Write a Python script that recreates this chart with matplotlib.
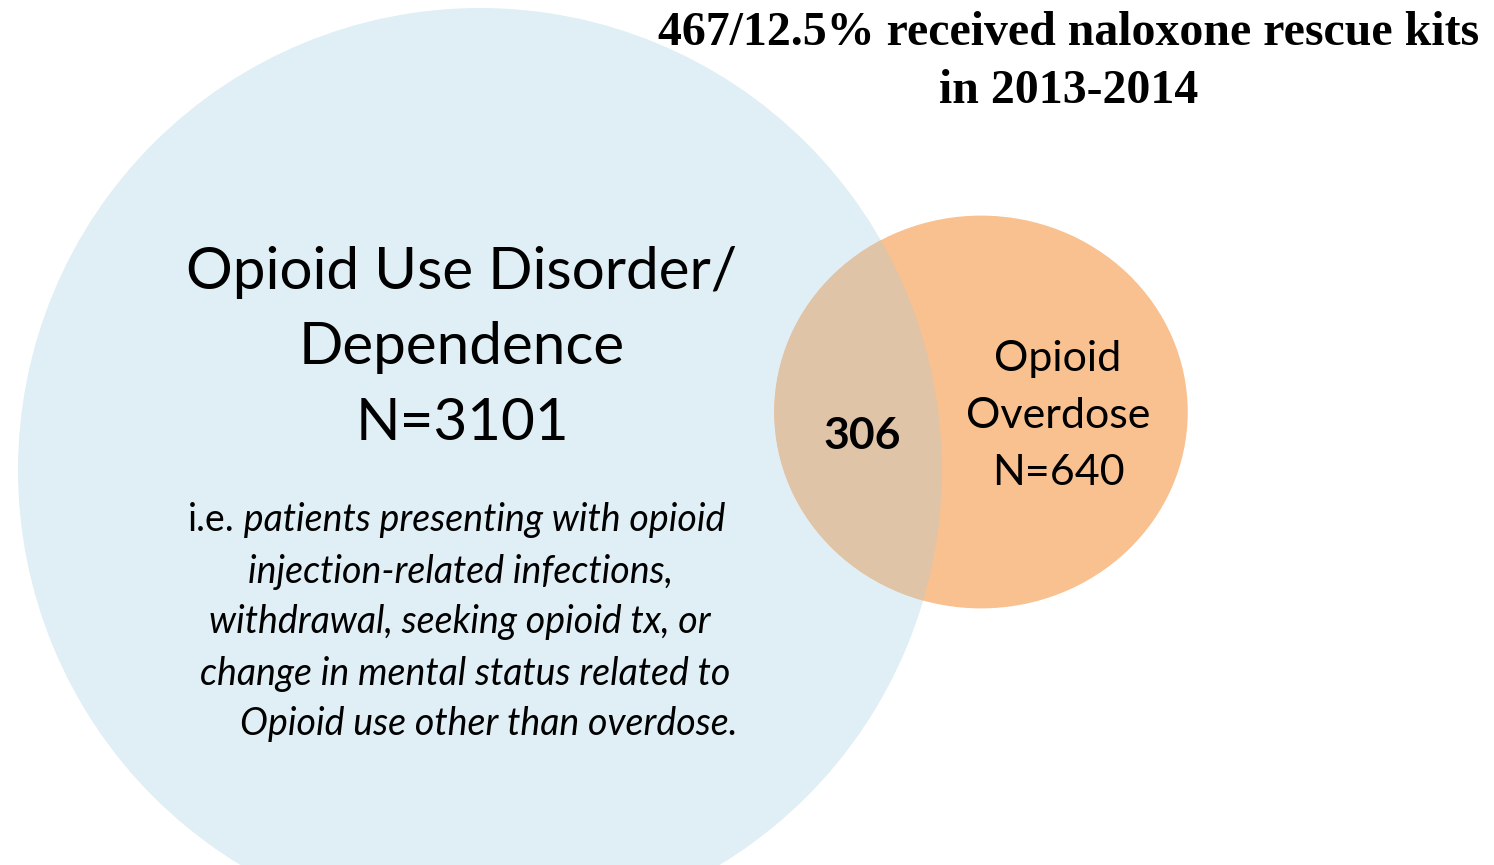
import numpy as np
import matplotlib
matplotlib.use("Agg")
import matplotlib.pyplot as plt
from matplotlib.patches import Circle, Ellipse

# set sizes
set_names = ["Opioid Use Disorder/\nDependence", "Opioid\nOverdose"]
set_counts = [3101, 640]
overlap_count = 306
title = "467/12.5% received naloxone rescue kits\nin 2013-2014"
note_lead = "i.e."
note_lines = [" patients presenting with opioid",
              "injection-related infections,",
              "withdrawal, seeking opioid tx, or",
              "change in mental status related to",
              "Opioid use other than overdose."]

W, H = 1494, 865
fig = plt.figure(figsize=(W / 100, H / 100), dpi=100)
ax = fig.add_axes([0, 0, 1, 1])
ax.set_xlim(0, W)
ax.set_ylim(H, 0)
ax.set_aspect("equal")
ax.axis("off")

sans = ["Lato", "DejaVu Sans"]

# radius scaled by sqrt of count (big circle r=462 px)
r_big = 462
r_small = r_big * np.sqrt(set_counts[1] / set_counts[0]) * 0.985
c_big = (480, 470)
c_small = (981, 412)

big = Circle(c_big, r_big, facecolor="#e0eff5", edgecolor="none", zorder=1)
ax.add_patch(big)
# the small set is drawn a little squashed vertically, like the slide
small = Ellipse(c_small, 2 * r_small, 2 * r_small * 0.95, facecolor="#f9c190",
                edgecolor="none", zorder=2)
ax.add_patch(small)
lens = Ellipse(c_small, 2 * r_small, 2 * r_small * 0.95, facecolor="#dfc4a7",
               edgecolor="none", zorder=3)
ax.add_patch(lens)
lens.set_clip_path(big)

ax.text(462, 348, set_names[0] + "\nN=%d" % set_counts[0], ha="center", va="center",
        fontsize=42, family=sans, linespacing=1.53, zorder=5)
ax.text(1058, 416, set_names[1] + "\nN=%d" % set_counts[1], ha="center", va="center",
        fontsize=31, family=sans, linespacing=1.62, zorder=5)
ax.text(862, 436, str(overlap_count), ha="center", va="center",
        fontsize=32, family=sans, fontweight="bold", zorder=5)

ax.text(1069, 62, title, ha="center", va="center", fontsize=34.5,
        family=["Liberation Serif"], fontweight="bold", linespacing=1.42, zorder=5)

# note block: first line has upright "i.e." then italic
note_y = [520, 572, 622, 674, 724]
note_x = [459, 460, 460, 465, 489]
note_fs = 27
lead = ax.text(188, note_y[0], note_lead, ha="left", va="center", fontsize=note_fs,
               family=sans, zorder=5)
ax.annotate(note_lines[0], xy=(1, 0), xycoords=lead, ha="left", va="bottom",
            fontsize=note_fs, family=sans, style="italic", zorder=5)
for x, y, s in zip(note_x[1:], note_y[1:], note_lines[1:]):
    ax.text(x, y, s, ha="center", va="center", fontsize=note_fs, family=sans,
            style="italic", zorder=5)

fig.savefig("out.png", dpi=100, facecolor="white")
